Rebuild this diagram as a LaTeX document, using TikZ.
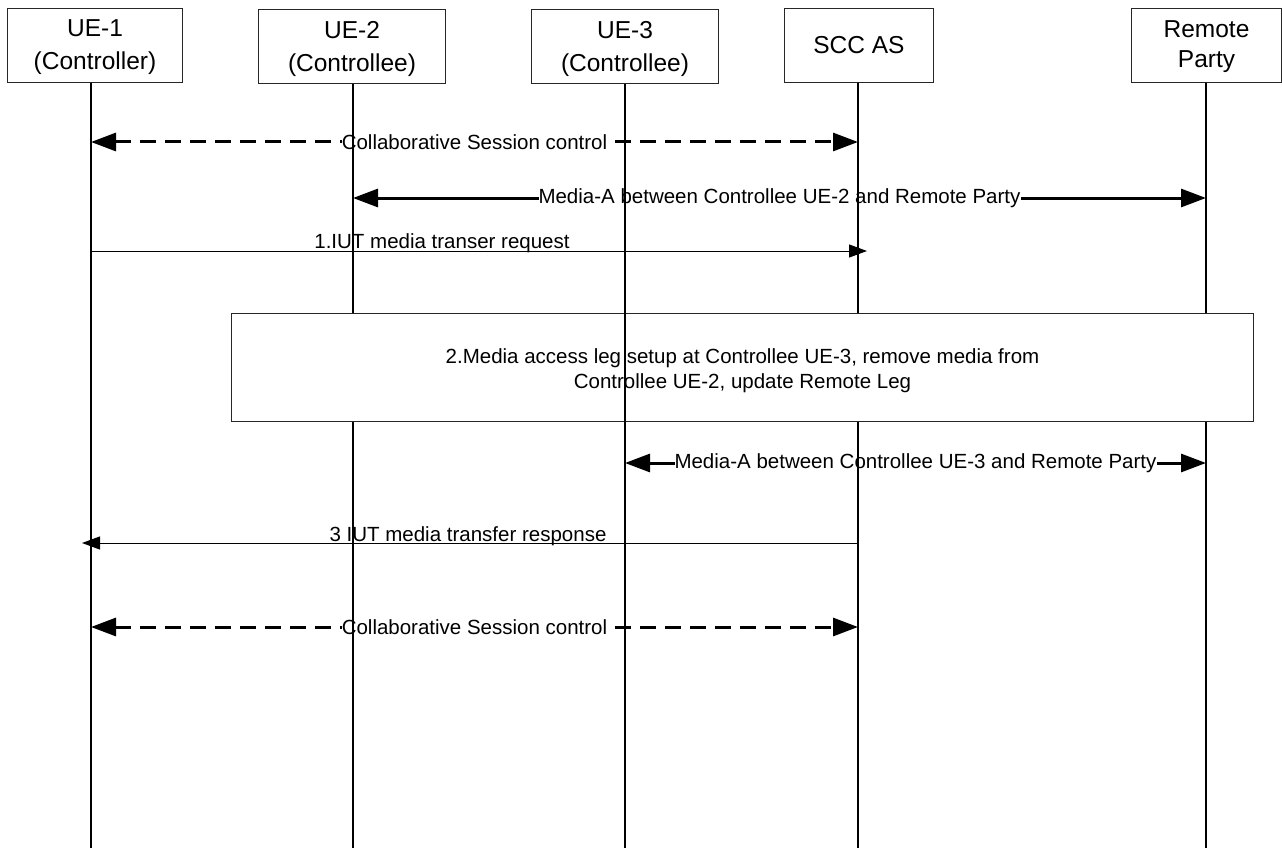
\documentclass[tikz,border=0pt]{standalone}
\usepackage{fontspec}
\setmainfont{Liberation Sans}
\usetikzlibrary{arrows.meta}
\begin{document}
\begin{tikzpicture}[x=1pt,y=-1pt,
  entity/.style={draw=black!85, line width=1pt, fill=white, anchor=north west,
    inner sep=0pt, minimum height=74pt},
  enttext/.style={inner sep=0pt, align=center, font=\fontsize{24.5}{33}\selectfont},
  lifeline/.style={line width=1.2pt},
  bigtip/.tip={Triangle[length=25pt,width=18pt]},
  smalltip/.tip={Triangle[length=18pt,width=13pt]},
  ctrl/.style={line width=3pt, dash pattern=on 16pt off 9pt, bigtip-bigtip},
  media/.style={line width=3pt, bigtip-bigtip},
  msg/.style={line width=1pt, -smalltip, shorten >=-9pt},
  lbl/.style={font=\fontsize{20.5}{25}\selectfont, fill=white, inner sep=0pt},
  msglbl/.style={font=\fontsize{20.5}{25}\selectfont, inner sep=0pt, anchor=base},
  procbox/.style={draw=black!85, line width=1pt, fill=white, anchor=north west, inner sep=0pt},
  proctext/.style={font=\fontsize{20.5}{25}\selectfont, align=center, inner sep=0pt}]
\useasboundingbox (0,0) rectangle (1282,848);

% entity boxes and their captions
\node[entity, minimum width=175pt] (ue1) at (7,8) {};
\node[entity, minimum width=187pt] (ue2) at (258,9) {};
\node[entity, minimum width=187pt] (ue3) at (531,9) {};
\node[entity, minimum width=149pt] (scc) at (784,8) {};
\node[entity, minimum width=150pt] (rp) at (1131,8) {};
\node[enttext] (ue1t) at ([yshift=-2pt]ue1.center) {UE-1\\(Controller)};
\node[enttext] (ue2t) at ([yshift=-2pt]ue2.center) {UE-2\\(Controllee)};
\node[enttext] (ue3t) at ([yshift=-2pt]ue3.center) {UE-3\\(Controllee)};
\node[enttext] (scct) at (scc.center) {SCC AS};
\node[enttext, font=\fontsize{24.5}{30}\selectfont] (rpt) at ([yshift=-1pt]rp.center) {Remote\\Party};

% lifeline feet
\coordinate (e1) at (91,848);
\coordinate (e2) at (353,848);
\coordinate (e3) at (625,848);
\coordinate (e4) at (858,848);
\coordinate (e5) at (1206,848);

% message rows
\coordinate (r1) at (0,142);
\coordinate (r2) at (0,198);
\coordinate (r3) at (0,251);
\coordinate (r5) at (0,463);
\coordinate (r6) at (0,543);
\coordinate (r7) at (0,627);

% messages
\draw[ctrl] (e1 |- r1) -- (e4 |- r1) node[midway, lbl] {Collaborative Session control};
\draw[media] (e2 |- r2) -- (e5 |- r2) node[midway, lbl] {Media-A between Controllee UE-2 and Remote Party};
\draw[msg] (e1 |- r3) -- (e4 |- r3);
\node[msglbl] (l3) at (442,248) {1.IUT media transer request};
\draw[media] (e3 |- r5) -- (e5 |- r5) node[midway, lbl] {Media-A between Controllee UE-3 and Remote Party};
\draw[msg] (e4 |- r6) -- (e1 |- r6);
\node[msglbl] (l6) at (468,541) {3 IUT media transfer response};
\draw[ctrl] (e1 |- r7) -- (e4 |- r7) node[midway, lbl] {Collaborative Session control};

% lifelines
\draw[lifeline] (ue1.south -| e1) -- (e1);
\draw[lifeline] (ue2.south -| e2) -- (e2);
\draw[lifeline] (ue3.south -| e3) -- (e3);
\draw[lifeline] (scc.south -| e4) -- (e4);
\draw[lifeline] (rp.south -| e5) -- (e5);

% step 2 procedure box
\node[procbox, minimum width=1022pt, minimum height=108pt] (step2) at (231,313) {};
\node[proctext] (step2txt) at ([yshift=-3pt]step2.center) {2.Media access leg setup at Controllee UE-3, remove media from\\Controllee UE-2, update Remote Leg};
\draw[lifeline] (step2.north -| e3) -- (step2.south -| e3);
\end{tikzpicture}
\end{document}
